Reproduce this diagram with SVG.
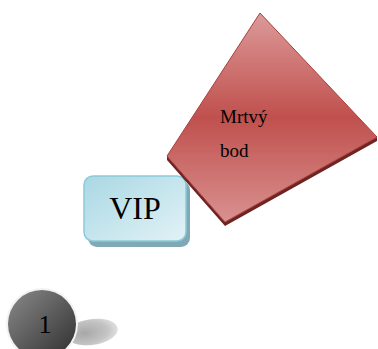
<svg xmlns="http://www.w3.org/2000/svg" width="378" height="349" viewBox="0 0 378 349">
<defs>
<linearGradient id="redG" x1="0" y1="0" x2="0" y2="1">
<stop offset="0" stop-color="#dc9a99"/>
<stop offset="0.5" stop-color="#c0504d"/>
<stop offset="1" stop-color="#d99190"/>
</linearGradient>
<linearGradient id="blueG" x1="0" y1="0" x2="1" y2="1">
<stop offset="0" stop-color="#a9d8e4"/>
<stop offset="1" stop-color="#e2f2f6"/>
</linearGradient>
<linearGradient id="circG" x1="0" y1="0" x2="1" y2="1">
<stop offset="0" stop-color="#8a8a8a"/>
<stop offset="1" stop-color="#2e2e2e"/>
</linearGradient>
<radialGradient id="shG" cx="0.35" cy="0.5" r="0.65">
<stop offset="0" stop-color="#a8a8a8"/>
<stop offset="0.7" stop-color="#c4c4c4"/>
<stop offset="1" stop-color="#e0e0e0"/>
</radialGradient>
<style>
.t{font-family:"Liberation Serif","Times New Roman",serif;fill:#000}
</style>
</defs>
<g id="vip">
<rect x="88" y="181" width="102" height="66" rx="9" fill="#7fa9b5"/>
<rect x="84" y="176" width="102" height="65" rx="9" fill="url(#blueG)" stroke="#8ccad9" stroke-width="1.5"/>
<text class="t" x="135" y="219" font-size="32" text-anchor="middle">VIP</text>
</g>
<g id="mrtvy-bod">
<polygon points="167,160 225,226 377,141 377,137 225,222 167,156" fill="#6e2423"/>
<polygon points="260,13 377,137 225,222 167,156" fill="url(#redG)" stroke="#a8403d" stroke-width="1"/>
<text class="t" x="220" y="123" font-size="19">Mrtvý</text>
<text class="t" x="220" y="157" font-size="19">bod</text>
</g>
<g id="step1">
<ellipse cx="92" cy="332" rx="26" ry="13" fill="url(#shG)" transform="rotate(-8 92 332)"/>
<circle cx="42" cy="324" r="36" fill="#f2f2f2"/>
<circle cx="42" cy="324" r="34" fill="url(#circG)"/>
<text class="t" x="45" y="333" font-size="26" text-anchor="middle">1</text>
</g>
</svg>
